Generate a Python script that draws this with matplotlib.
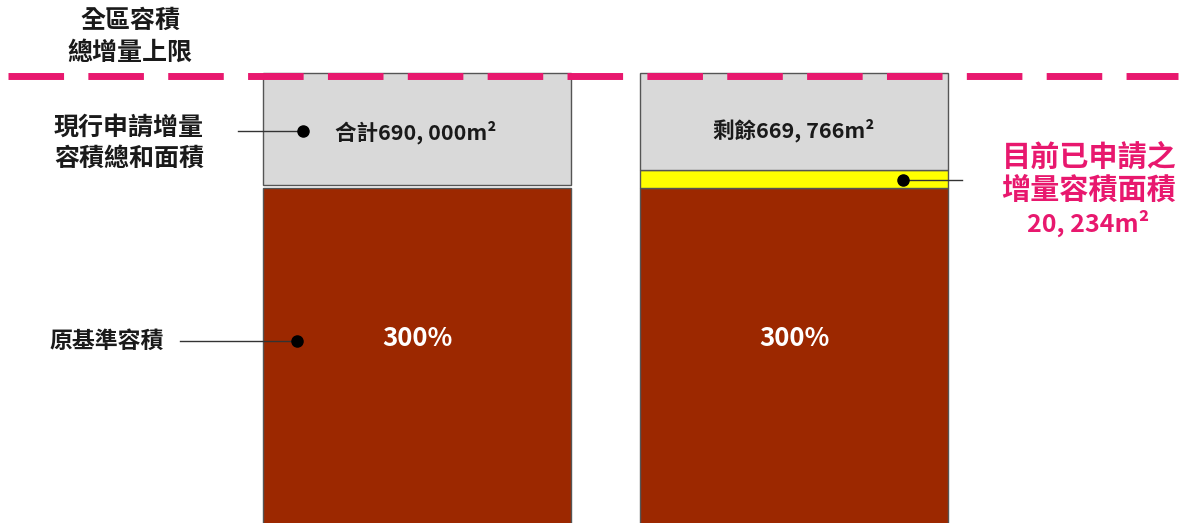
import matplotlib
matplotlib.use("Agg")
import matplotlib.pyplot as plt

plt.rcParams['font.family'] = ['Noto Sans CJK TC', 'DejaVu Sans']

# data
bars = ["現況", "申請後"]
base_label = "300%"
total_increment = 690000
applied = 20234
remaining = total_increment - applied
segment_labels = [f"合計{total_increment:,}m²".replace(",", ", "),
                  f"剩餘{remaining:,}m²".replace(",", ", ")]

# schematic heights (pixels of the drawing, not to scale)
base_h = 400
gap_h = 3
gray_h_left = 112
yellow_h = 18
gray_h_right = 97

W, H = 1188, 523
fig = plt.figure(figsize=(W / 100, H / 100), dpi=100)
ax = fig.add_axes([0, 0, 1, 1])
ax.set_xlim(0, W)
ax.set_ylim(H, 0)
ax.axis("off")

brown = "#9C2800"
gray = "#D9D9D9"
yellow = "#FFFF00"
pink = "#E8186E"
edge = "#555555"

x_left, x_right = 263, 640
bw = 308
base_top = 188

# base bars
ax.bar([x_left, x_right], [base_h, base_h], width=bw, bottom=base_top, align="edge",
       color=brown, edgecolor=edge, lw=1)
# left gray stack
ax.bar(x_left, -gray_h_left, width=bw, bottom=base_top - gap_h, align="edge",
       color=gray, edgecolor=edge, lw=1)
# right yellow + gray
ax.bar(x_right, -yellow_h, width=bw, bottom=base_top, align="edge",
       color=yellow, edgecolor=edge, lw=1)
ax.bar(x_right, -gray_h_right, width=bw, bottom=base_top - yellow_h, align="edge",
       color=gray, edgecolor=edge, lw=1)

# cap line
ax.plot([8, 1178], [76, 76], color=pink, lw=5, dashes=(8, 3.5), solid_capstyle="butt")

tk = dict(fontweight="heavy", color="#1a1a1a", ha="center", va="center")
ax.text(130, 21, "全區容積", fontsize=18, **tk)
ax.text(130, 53, "總增量上限", fontsize=18, **tk)
ax.text(129, 128, "現行申請增量", fontsize=18, **tk)
ax.text(129, 159, "容積總和面積", fontsize=18, **tk)
ax.text(107, 341, "原基準容積", fontsize=16.5, **tk)

# leader lines with dots
ax.plot([238, 303], [131, 131], color="#333333", lw=1)
ax.plot(303, 131, "o", color="black", ms=8)
ax.plot([180, 297], [341, 341], color="#333333", lw=1)
ax.plot(297, 341, "o", color="black", ms=8)
ax.plot([903, 962], [180, 180], color="#333333", lw=1)
ax.plot(903, 180, "o", color="black", ms=8)

tn = dict(fontweight="bold", color="#1a1a1a", va="center", fontsize=15.5)
ax.text(335, 132, segment_labels[0], ha="left", **tn)
ax.text(794, 130, segment_labels[1], ha="center", **tn)

for xc in [x_left + bw / 2, x_right + bw / 2]:
    ax.text(xc, 338, base_label, ha="center", va="center", fontsize=18.5,
            fontweight="bold", color="white")

pk = dict(fontweight="heavy", color=pink, ha="center", va="center")
ax.text(1089, 157, "目前已申請之", fontsize=21, **pk)
ax.text(1089, 190, "增量容積面積", fontsize=21, **pk)
ax.text(1088, 223, f"{applied:,}m²".replace(",", ", "), fontsize=18, **pk)

fig.savefig("out.png", dpi=100)
